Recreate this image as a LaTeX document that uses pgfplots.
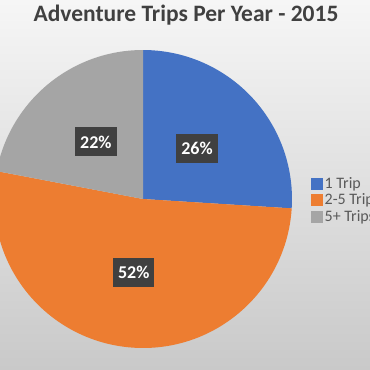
\documentclass[border=0pt]{standalone}
\usepackage{pgfplots}
\pgfplotsset{compat=1.18}
\usepackage{pgfplotstable}
\usepackage{fontspec}
\setmainfont{Carlito}
\definecolor{pieblue}{HTML}{4472C4}
\definecolor{pieorange}{HTML}{ED7D31}
\definecolor{piegray}{HTML}{A5A5A5}
\definecolor{labelbox}{HTML}{404040}
\definecolor{titlegray}{HTML}{404040}
\definecolor{legendgray}{HTML}{595959}
\definecolor{bgtop}{HTML}{F6F6F6}
\definecolor{bgbottom}{HTML}{C9C9C9}

\pgfplotstableread{
idx value
0 26
1 52
2 22
}\pietable

\begin{document}
\begin{tikzpicture}
\pgfplotstablegetelem{0}{value}\of\pietable\let\vA\pgfplotsretval
\pgfplotstablegetelem{1}{value}\of\pietable\let\vB\pgfplotsretval
\pgfplotstablegetelem{2}{value}\of\pietable\let\vC\pgfplotsretval
\pgfmathsetmacro\aA{90}
\pgfmathsetmacro\aB{\aA-3.6*\vA}
\pgfmathsetmacro\aC{\aB-3.6*\vB}
\pgfmathsetmacro\aD{\aC-3.6*\vC}
\pgfmathsetmacro\mA{(\aA+\aB)/2}
\pgfmathsetmacro\mB{(\aB+\aC)/2}
\pgfmathsetmacro\mC{(\aC+\aD)/2}
\begin{axis}[
  x=1pt, y=1pt,
  xmin=0, xmax=370, ymin=0, ymax=370,
  y dir=reverse,
  hide axis,
  legend style={
    at={(0.838,0.459)}, anchor=west,
    draw=none, fill=none,
    font=\fontsize{16}{18}\selectfont,
    text=legendgray,
    row sep=0pt,
    inner sep=1pt,
    /tikz/every odd column/.append style={column sep=0pt},
  },
  legend cell align=left,
]
\shade[top color=bgtop, bottom color=bgbottom] (axis cs:0,0) rectangle (axis cs:370,370);
\fill[pieblue] (axis cs:143,199) -- ++(\aA:149pt) arc[start angle=\aA, end angle=\aB, radius=149pt] -- cycle;
\fill[pieorange] (axis cs:143,199) -- ++(\aB:149pt) arc[start angle=\aB, end angle=\aC, radius=149pt] -- cycle;
\fill[piegray] (axis cs:143,199) -- ++(\aC:149pt) arc[start angle=\aC, end angle=\aD, radius=149pt] -- cycle;
\path (axis cs:143,199) ++(\mA:74pt) node[fill=labelbox, text=white, font=\bfseries\fontsize{18}{18}\selectfont, inner xsep=5pt, minimum height=29pt] {26\%};
\path (axis cs:143,199) ++(\mB:74pt) node[fill=labelbox, text=white, font=\bfseries\fontsize{18}{18}\selectfont, inner xsep=5pt, minimum height=29pt] {52\%};
\path (axis cs:143,199) ++(\mC:74pt) node[fill=labelbox, text=white, font=\bfseries\fontsize{18}{18}\selectfont, inner xsep=5pt, minimum height=29pt] {22\%};
\node[font=\bfseries\fontsize{23.5}{26}\selectfont, text=titlegray] at (axis cs:186,15) {Adventure Trips Per Year - 2015};
\addlegendimage{legend image code/.code={\fill[pieblue] (0pt,-5.5pt) rectangle (11pt,5.5pt);}}
\addlegendentry{1 Trip}
\addlegendimage{legend image code/.code={\fill[pieorange] (0pt,-5.5pt) rectangle (11pt,5.5pt);}}
\addlegendentry{2-5 Trips}
\addlegendimage{legend image code/.code={\fill[piegray] (0pt,-5.5pt) rectangle (11pt,5.5pt);}}
\addlegendentry{5+ Trips}
\end{axis}
\pgfresetboundingbox
\path[use as bounding box] (0,0) rectangle (370pt,370pt);
\end{tikzpicture}
\end{document}
